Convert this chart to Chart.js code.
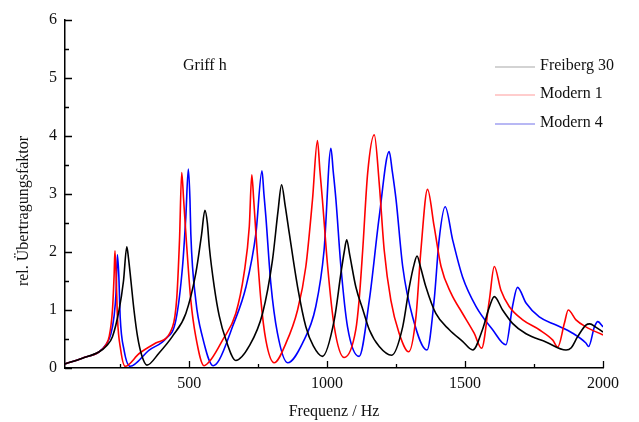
<!DOCTYPE html>
<html>
<head>
<meta charset="utf-8">
<script src="https://cdn.jsdelivr.net/npm/chart.js@4"></script>
<style>
    body { margin: 0; background: #fff; }
    canvas { display: block; }
</style>
</head>
<body>
<canvas id="chart" width="639" height="422"></canvas>
<script>
// Freiberg 30 (black)
const freqFreiberg = [50, 113, 174, 200, 222, 246, 262, 274, 280, 289, 300, 313, 328, 347, 391, 440, 488, 524, 545, 557, 566, 573, 591, 609, 633, 669, 718, 766, 802, 822, 835, 848, 863, 893, 923, 950, 983, 1026, 1050, 1062, 1071, 1082, 1104, 1130, 1153, 1189, 1234, 1274, 1298, 1316, 1326, 1338, 1358, 1394, 1443, 1491, 1528, 1563, 1588, 1606, 1636, 1672, 1721, 1793, 1866, 1885, 1908, 1938, 1952, 1975, 2000];
const ampFreiberg = [0.07, 0.17, 0.28, 0.38, 0.54, 1.0, 1.5, 2.09, 1.9, 1.5, 1.0, 0.54, 0.22, 0.05, 0.26, 0.55, 0.94, 1.63, 2.3, 2.72, 2.5, 2.09, 1.40, 0.9, 0.49, 0.13, 0.38, 0.94, 1.86, 2.7, 3.16, 2.8, 2.32, 1.40, 0.71, 0.38, 0.20, 0.83, 1.63, 2.0, 2.21, 1.95, 1.40, 1.0, 0.66, 0.37, 0.22, 0.71, 1.40, 1.8, 1.93, 1.75, 1.40, 0.94, 0.66, 0.46, 0.31, 0.66, 1.05, 1.23, 1.0, 0.77, 0.59, 0.45, 0.31, 0.35, 0.54, 0.74, 0.76, 0.70, 0.62];

// Modern 1 (red)
const freqModern1 = [50, 113, 174, 198, 210, 222, 228, 231, 236, 240, 252, 268, 319, 379, 440, 455, 465, 473, 480, 488, 506, 524, 554, 580, 621, 669, 699, 718, 727, 734, 742, 760, 778, 808, 851, 893, 923, 947, 965, 974, 983, 1002, 1026, 1062, 1104, 1116, 1129, 1147, 1171, 1189, 1207, 1231, 1261, 1296, 1322, 1340, 1364, 1388, 1413, 1449, 1491, 1533, 1560, 1588, 1606, 1630, 1660, 1709, 1769, 1818, 1836, 1860, 1874, 1902, 1938, 2000];
const ampModern1 = [0.07, 0.17, 0.28, 0.40, 0.54, 1.0, 1.6, 2.02, 1.5, 0.88, 0.31, 0.03, 0.25, 0.43, 0.71, 1.2, 2.2, 3.37, 2.9, 2.32, 1.17, 0.54, 0.04, 0.15, 0.48, 0.94, 1.63, 2.44, 3.33, 2.9, 2.32, 1.17, 0.48, 0.09, 0.43, 1.0, 1.75, 2.90, 3.92, 3.4, 2.90, 1.75, 0.71, 0.18, 0.66, 1.17, 2.03, 3.36, 4.02, 3.18, 2.03, 1.17, 0.60, 0.28, 0.88, 2.03, 3.08, 2.44, 1.75, 1.29, 0.94, 0.60, 0.34, 1.17, 1.75, 1.34, 1.06, 0.83, 0.66, 0.48, 0.36, 0.77, 1.0, 0.83, 0.71, 0.57];

// Modern 4 (blue)
const freqModern4 = [50, 113, 174, 198, 216, 228, 235, 240, 245, 250, 264, 286, 355, 416, 452, 476, 488, 497, 503, 506, 524, 548, 587, 609, 657, 706, 742, 764, 771, 778, 796, 820, 857, 911, 959, 989, 1014, 1022, 1032, 1050, 1074, 1116, 1153, 1189, 1225, 1236, 1250, 1274, 1310, 1362, 1388, 1406, 1428, 1455, 1491, 1540, 1600, 1648, 1672, 1690, 1721, 1769, 1830, 1890, 1938, 1948, 1969, 1981, 2000];
const ampModern4 = [0.07, 0.17, 0.28, 0.40, 0.58, 0.9, 1.3, 1.95, 1.6, 0.88, 0.31, 0.03, 0.31, 0.51, 0.83, 1.75, 2.61, 3.43, 2.9, 2.32, 1.17, 0.54, 0.04, 0.14, 0.71, 1.40, 2.32, 3.40, 3.0, 2.61, 1.46, 0.60, 0.09, 0.43, 1.06, 2.03, 3.79, 3.4, 2.90, 1.75, 0.71, 0.20, 1.17, 2.61, 3.73, 3.4, 2.90, 1.75, 0.88, 0.31, 1.17, 2.21, 2.78, 2.21, 1.57, 1.06, 0.66, 0.40, 1.06, 1.39, 1.12, 0.88, 0.74, 0.60, 0.43, 0.37, 0.71, 0.80, 0.71];

const seriesNames = ['Freiberg 30', 'Modern 1', 'Modern 4'];
const seriesColors = ['#000000', '#ff0000', '#0000ff'];
const legendColors = ['#c4c4c4', '#ffbdbd', '#a0a0f0'];
const xTicks = [500, 1000, 1500, 2000];
const xMinor = [250, 750, 1250, 1750];
const yTicks = [0, 1, 2, 3, 4, 5, 6];
const yMinor = [0.5, 1.5, 2.5, 3.5, 4.5, 5.5];

const serif = "'Liberation Serif', 'DejaVu Serif', serif";

function toPoints(xs, ys) {
    return xs.map((x, i) => ({ x: x, y: ys[i] }));
}

// inward ticks, axis titles, label and legend
const extras = {
    id: 'extras',
    afterDraw(chart) {
        const ctx = chart.ctx;
        const xs = chart.scales.x, ys = chart.scales.y;
        const area = chart.chartArea;
        ctx.save();
        ctx.strokeStyle = '#000';
        ctx.lineWidth = 1.3;
        ctx.beginPath();
        xTicks.forEach(v => {
            const px = Math.round(xs.getPixelForValue(v)) + 0.5;
            ctx.moveTo(px, area.bottom); ctx.lineTo(px, area.bottom - 7);
        });
        xMinor.forEach(v => {
            const px = Math.round(xs.getPixelForValue(v)) + 0.5;
            ctx.moveTo(px, area.bottom); ctx.lineTo(px, area.bottom - 4);
        });
        yTicks.forEach(v => {
            const py = Math.round(ys.getPixelForValue(v)) + 0.5;
            ctx.moveTo(area.left, py); ctx.lineTo(area.left + 7, py);
        });
        yMinor.forEach(v => {
            const py = Math.round(ys.getPixelForValue(v)) + 0.5;
            ctx.moveTo(area.left, py); ctx.lineTo(area.left + 4, py);
        });
        ctx.stroke();

        ctx.fillStyle = '#111';
        ctx.font = '16px ' + serif;
        ctx.textBaseline = 'middle';

        // x title
        ctx.textAlign = 'center';
        ctx.fillText('Frequenz / Hz', 334, 412);

        // y title
        ctx.save();
        ctx.translate(24, 211);
        ctx.rotate(-Math.PI / 2);
        ctx.fillText('rel. Übertragungsfaktor', 0, 0);
        ctx.restore();

        // label
        ctx.textAlign = 'left';
        ctx.fillText('Griff h', 183, 66);

        // legend
        const rows = [66, 94, 123];
        seriesNames.forEach((name, i) => {
            ctx.strokeStyle = legendColors[i];
            ctx.lineWidth = 1.3;
            ctx.beginPath();
            ctx.moveTo(495, rows[i] + 1);
            ctx.lineTo(535, rows[i] + 1);
            ctx.stroke();
            ctx.fillText(name, 540, rows[i]);
        });
        ctx.restore();
    }
};

new Chart(document.getElementById('chart'), {
    type: 'line',
    data: {
        datasets: [
            { label: seriesNames[0], data: toPoints(freqFreiberg, ampFreiberg), borderColor: seriesColors[0] },
            { label: seriesNames[1], data: toPoints(freqModern1, ampModern1), borderColor: seriesColors[1] },
            { label: seriesNames[2], data: toPoints(freqModern4, ampModern4), borderColor: seriesColors[2] }
        ]
    },
    options: {
        responsive: false,
        animation: false,
        layout: { padding: { top: 20, right: 36, left: 0, bottom: 0 } },
        elements: {
            point: { radius: 0 },
            line: { borderWidth: 1.6, fill: false, cubicInterpolationMode: 'monotone' }
        },
        plugins: {
            legend: { display: false },
            tooltip: { enabled: false }
        },
        scales: {
            x: {
                type: 'linear',
                min: 50,
                max: 2000,
                afterBuildTicks: s => { s.ticks = xTicks.map(v => ({ value: v })); },
                afterFit: s => { s.height = 54; },
                grid: { display: false, drawTicks: false },
                border: { display: true, color: '#000', width: 1.5 },
                ticks: {
                    color: '#111',
                    font: { family: serif, size: 16 },
                    padding: 6,
                    maxRotation: 0,
                    callback: v => String(v)
                }
            },
            y: {
                min: 0,
                max: 6,
                afterBuildTicks: s => { s.ticks = yTicks.map(v => ({ value: v })); },
                afterFit: s => { s.width = 65; },
                grid: { display: false, drawTicks: false },
                border: { display: true, color: '#000', width: 1.5 },
                ticks: { color: '#111', font: { family: serif, size: 16 }, padding: 8 }
            }
        }
    },
    plugins: [extras]
});
</script>
</body>
</html>
